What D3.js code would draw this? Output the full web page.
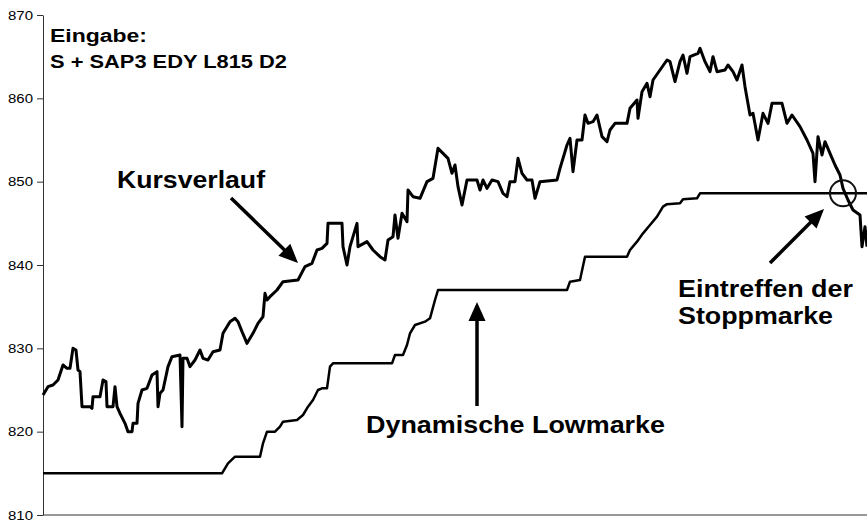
<!DOCTYPE html>
<html>
<head>
<meta charset="utf-8">
<script src="https://cdn.jsdelivr.net/npm/d3@7"></script>
<style>
  body { margin: 0; background: #fff; }
  text { font-family: "Liberation Sans", Arial, sans-serif; }
</style>
</head>
<body>
<svg width="867" height="523"></svg>
<script>
// price path (time index, price)
var kursT = [0,2.5,5,7.5,10,12,13.5,15,16.5,17.5,18.5,19.5,23.5,24.5,25,28.5,30,31.5,32,35,36,37,38.5,41,42.5,44.5,45,47,47.5,49.5,
  52,54.5,57,57.5,58.5,60,62.5,64.5,68.5,69.5,70,72,73.5,76,78.5,80,82.5,85,88.5,90,93.5,96,97.5,99.5,102,105,107.5,110,111,112,113.5,
  117,120,127.5,131,134.5,137,139.5,142,142.5,149.5,150,152,153.5,157,157.5,162,165,168.5,171,172.5,175,176,177.5,179.5,182,182.5,185,188.5,
  192,195,197.5,200,202.5,204.5,206,207.5,209.5,212,217,218.5,220,222,224.5,227.5,230,232,233.5,236,237.5,239.5,242,244.5,246,248.5,
  257,258.5,262,263.5,265,267,269.5,271,272.5,275,277,279.5,282,283.5,286,292,293.5,297,297.5,299.5,302,303.5,305,308.5,312,313.5,
  316,318.5,320,322,323.5,327.5,328.5,331,333.5,335,337,341,342.5,345,347,349.5,351,353.5,355,357.5,360,362.5,364.5,369.5,372,374.5,
  378.5,382,385,386,387.5,389.5,391,393.5,396,398.5,400,402.5,405,408.5,409.5,411,412];
var kursV = [824.4,825.4,825.6,826.2,828.0,827.6,827.6,830.0,829.8,827.4,827.2,823.0,823.0,822.8,824.2,824.2,826.2,826.0,823.0,823.0,825.4,823.0,822.2,821.0,820.0,820.0,821.0,821.0,823.4,825.0,
  825.2,826.8,827.2,823.0,824.6,825.0,827.8,829.0,829.2,820.6,828.8,828.8,827.8,828.6,829.8,828.8,828.6,829.6,829.8,831.8,833.2,833.6,833.2,832.0,830.6,831.8,833.0,833.8,836.6,835.8,836.2,
  837.0,838.0,838.2,839.8,840.2,841.8,842.0,842.6,845.0,845.0,842.2,840.0,842.2,845.0,842.2,842.8,841.8,841.0,840.6,843.0,843.4,846.0,843.2,846.2,845.2,849.0,848.2,848.0,
  850.0,850.4,854.0,853.4,852.8,851.0,852.0,849.4,847.2,850.2,850.2,849.0,850.2,849.2,850.2,850.0,848.6,848.2,850.0,850.0,852.8,851.0,850.2,850.2,848.0,850.0,
  850.2,851.6,854.4,855.2,851.2,855.0,855.0,858.0,857.0,857.2,858.0,855.4,854.8,856.2,857.0,857.0,858.8,859.8,857.6,860.8,861.8,860.2,862.2,863.4,864.6,864.4,
  862.0,864.4,865.2,863.0,865.0,865.4,866.0,864.4,863.2,865.0,863.2,863.4,864.0,863.2,862.2,864.0,861.4,858.0,858.2,855.0,858.2,857.0,859.4,859.4,857.0,858.0,
  856.6,855.0,853.4,850.0,855.4,853.2,854.8,853.4,852.0,850.8,849.2,847.8,846.6,846.0,842.2,844.6,842.2];

// dynamic low mark (time index, price)
var lowT = [0,89.5,92.5,96,108.5,110,112,116,118.5,120,127,130,132.5,135,137.5,139.5,142,143.5,145,174.5,176,180,182,183.5,186,191,193.5,196,197.5,
  262,263.5,268.5,271,292,293.5,297,300,303.5,307,310,312,318.5,320,327,328.5,412];
var lowV = [815,815,816.2,817,817,818.6,820,820,820.6,821.2,821.4,822,823,823.8,825,825.2,825.2,827.8,828.2,828.2,829.2,829.2,830.4,831.8,832.8,833.2,833.6,835.8,837,
  837,838,838.2,841,841,841.8,842.8,843.8,844.8,845.8,847,847.3,847.4,847.9,848,848.6,848.6];

var yTicks = [810, 820, 830, 840, 850, 860, 870];
var stopT = 400, stopV = 848.6;

var svg = d3.select("svg");

var x = d3.scaleLinear().domain([0, 412]).range([43, 867]);
var y = d3.scaleLinear().domain([810, 870]).range([515, 15]);

// axes
var yAxis = svg.append("g")
    .attr("transform", "translate(43,0)")
    .call(d3.axisLeft(y).tickValues(yTicks).tickSize(6).tickPadding(4).tickSizeOuter(0).tickFormat(d3.format("d")));
yAxis.select(".domain").attr("stroke", "#333");
yAxis.selectAll(".tick line").attr("stroke", "#333");
yAxis.selectAll(".tick text")
    .attr("font-size", 13)
    .attr("fill", "#000")
    .attr("font-family", "Liberation Sans, Arial, sans-serif")
    .attr("textLength", 25)
    .attr("lengthAdjust", "spacingAndGlyphs");

svg.append("line")
    .attr("x1", x(0)).attr("x2", x(412))
    .attr("y1", y(810)).attr("y2", y(810))
    .attr("stroke", "#333");

var kurs = kursT.map(function(t, i) { return [t, kursV[i]]; });
var low = lowT.map(function(t, i) { return [t, lowV[i]]; });

var line = d3.line()
    .x(function(d) { return x(d[0]); })
    .y(function(d) { return y(d[1]); });

svg.append("path")
    .attr("d", line(low))
    .attr("fill", "none")
    .attr("stroke", "#000")
    .attr("stroke-width", 2.5)
    .attr("stroke-linejoin", "round");

svg.append("path")
    .attr("d", line(kurs))
    .attr("fill", "none")
    .attr("stroke", "#000")
    .attr("stroke-width", 3)
    .attr("stroke-linejoin", "round");

// stop hit circle
svg.append("circle")
    .attr("cx", x(stopT)).attr("cy", y(stopV))
    .attr("r", 13)
    .attr("fill", "none")
    .attr("stroke", "#111")
    .attr("stroke-width", 2);

// arrows
function arrow(x1, y1, x2, y2) {
  var dx = x2 - x1, dy = y2 - y1, len = Math.sqrt(dx * dx + dy * dy);
  var ux = dx / len, uy = dy / len, hl = 19, hw = 8.5;
  var bx = x2 - ux * hl, by = y2 - uy * hl;
  svg.append("line")
      .attr("x1", x1).attr("y1", y1).attr("x2", bx + ux * 2).attr("y2", by + uy * 2)
      .attr("stroke", "#000").attr("stroke-width", 3.5);
  svg.append("polygon")
      .attr("points", [[x2, y2], [bx - uy * hw, by + ux * hw], [bx + uy * hw, by - ux * hw]].join(" "))
      .attr("fill", "#000");
}
arrow(231, 198, 298, 263);
arrow(477, 406, 477, 302);
arrow(770, 263, 824, 209);

// labels
function label(txt, lx, ly, size, w) {
  svg.append("text")
      .attr("x", lx).attr("y", ly)
      .attr("font-size", size)
      .attr("font-weight", "bold")
      .attr("textLength", w)
      .attr("lengthAdjust", "spacingAndGlyphs")
      .text(txt);
}
label("Eingabe:", 50, 42, 17.5, 97);
label("S + SAP3 EDY L815 D2", 50, 68, 17.5, 237);
label("Kursverlauf", 117, 188, 23, 148);
label("Dynamische Lowmarke", 366, 433, 24, 299);
label("Eintreffen der", 678, 297, 24, 175);
label("Stoppmarke", 678, 324, 24, 155);
</script>
</body>
</html>
